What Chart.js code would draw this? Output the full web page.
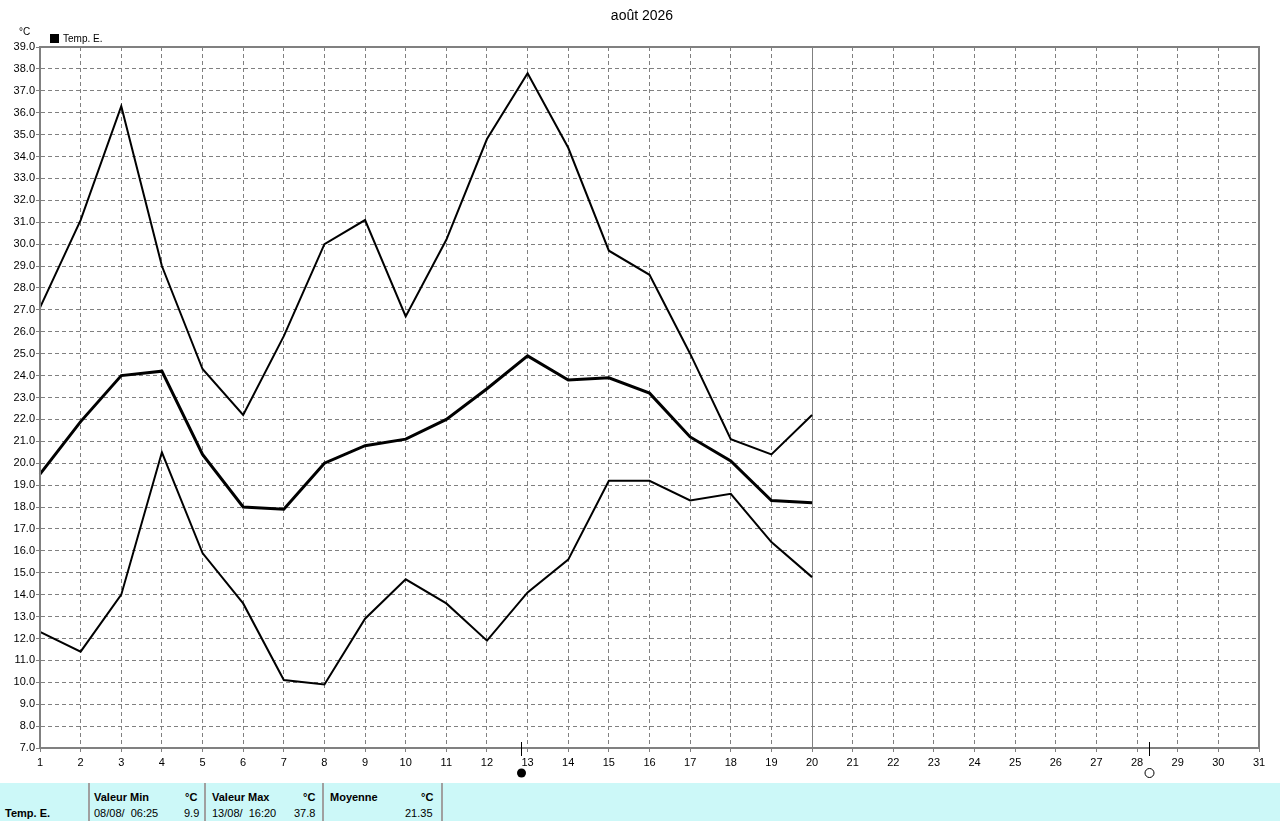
<!DOCTYPE html>
<html>
<head>
<meta charset="utf-8">
<script src="https://cdn.jsdelivr.net/npm/chart.js@4/dist/chart.umd.min.js"></script>
<style>
  body { margin: 0; background: #fff; font-family: "Liberation Sans", Arial, sans-serif; }
  #wrap { position: relative; width: 1280px; height: 821px; overflow: hidden; }
  #chart { position: absolute; left: 0; top: 0; }
  .txt { position: absolute; font-size: 11px; color: #000; white-space: nowrap; line-height: 12px; }
  #title { left: 0; width: 1284px; top: 7px; text-align: center; font-size: 14px; line-height: 16px; }
  #table { position: absolute; left: 0; top: 783px; width: 1280px; height: 38px; background: #ccf8f8; }
  .sep { position: absolute; top: 0; width: 2px; height: 38px; background: #a0a0a0; }
  .b { font-weight: bold; }
</style>
</head>
<body>
<div id="wrap">
  <canvas id="chart" width="1280" height="783"></canvas>
  <div id="title" class="txt">août 2026</div>
  <div class="txt" style="left:19px;top:26px;font-size:10px;">°C</div>
  <div class="txt" style="left:50px;top:33px;font-size:10px;"><span style="display:inline-block;width:9px;height:9px;background:#000;vertical-align:-1px;margin-right:4px;"></span>Temp. E.</div>
  <div id="table">
    <div class="sep" style="left:88px"></div>
    <div class="sep" style="left:204px"></div>
    <div class="sep" style="left:322px"></div>
    <div class="sep" style="left:441px"></div>
    <div class="txt b" style="left:5px;top:24px;">Temp. E.</div>
    <div class="txt b" style="left:94px;top:8px;">Valeur Min</div>
    <div class="txt b" style="left:185px;top:8px;">°C</div>
    <div class="txt" style="left:94px;top:24px;">08/08/&nbsp; 06:25</div>
    <div class="txt" style="left:184px;top:24px;">9.9</div>
    <div class="txt b" style="left:212px;top:8px;">Valeur Max</div>
    <div class="txt b" style="left:303px;top:8px;">°C</div>
    <div class="txt" style="left:212px;top:24px;">13/08/&nbsp; 16:20</div>
    <div class="txt" style="left:294px;top:24px;">37.8</div>
    <div class="txt b" style="left:330px;top:8px;">Moyenne</div>
    <div class="txt b" style="left:421px;top:8px;">°C</div>
    <div class="txt" style="left:405px;top:24px;">21.35</div>
  </div>
</div>
<script>
// days of the month (x axis)
const days = [];
for (let d = 1; d <= 31; d++) days.push(String(d));

// daily values, days 1..20
const tempMax = [27.1, 31.1, 36.3, 29.0, 24.3, 22.2, 25.8, 30.0, 31.1, 26.7,
                 30.2, 34.8, 37.8, 34.4, 29.7, 28.6, 25.0, 21.1, 20.4, 22.2];
const tempMean = [19.5, 21.9, 24.0, 24.2, 20.4, 18.0, 17.9, 20.0, 20.8, 21.1,
                  22.0, 23.4, 24.9, 23.8, 23.9, 23.2, 21.2, 20.1, 18.3, 18.2];
const tempMin = [12.3, 11.4, 14.0, 20.5, 15.9, 13.6, 10.1, 9.9, 12.9, 14.7,
                 13.6, 11.9, 14.1, 15.6, 19.2, 19.2, 18.3, 18.6, 16.4, 14.8];

// moon phases (day of month, fractional) and current-day marker
const moonDays = [12.83, 28.29];
const moonFull = [false, true];
const todayDay = 20;

const GRAY = "#808080";

// frame, today line and moon markers
const extras = {
  id: "extras",
  beforeDatasetsDraw(chart) {
    const { ctx, chartArea: a, scales: { x } } = chart;
    ctx.save();
    ctx.strokeStyle = GRAY;
    ctx.lineWidth = 1;
    const tx = Math.round(x.getPixelForValue(todayDay - 1)) + 0.5;
    ctx.beginPath();
    ctx.moveTo(tx, a.top);
    ctx.lineTo(tx, a.bottom);
    ctx.stroke();
    ctx.restore();
  },
  afterDraw(chart) {
    const { ctx, chartArea: a, scales: { x } } = chart;
    ctx.save();
    ctx.strokeStyle = GRAY;
    ctx.lineWidth = 2;
    ctx.strokeRect(a.left, a.top, a.right - a.left, a.bottom - a.top);
    moonDays.forEach((d, i) => {
      const px = Math.round(x.getPixelForValue(d - 1)) + 0.5;
      ctx.strokeStyle = "#000";
      ctx.lineWidth = 1;
      ctx.beginPath();
      ctx.moveTo(px, a.bottom - 6);
      ctx.lineTo(px, a.bottom + 8);
      ctx.stroke();
      ctx.beginPath();
      ctx.arc(px, a.bottom + 25, 4.5, 0, Math.PI * 2);
      if (moonFull[i]) {
        ctx.stroke();
      } else {
        ctx.fillStyle = "#000";
        ctx.fill();
      }
    });
    ctx.restore();
  }
};

const lineSet = (data, width) => ({
  data,
  borderColor: "#000",
  borderWidth: width,
  pointRadius: 0,
  tension: 0,
  fill: false
});

new Chart(document.getElementById("chart"), {
  type: "line",
  data: {
    labels: days,
    datasets: [
      lineSet(tempMax, 2),
      lineSet(tempMean, 3),
      lineSet(tempMin, 2)
    ]
  },
  options: {
    responsive: false,
    animation: false,
    devicePixelRatio: 1,
    layout: { padding: { left: 0, top: 47, right: 21, bottom: 0 } },
    plugins: {
      legend: { display: false },
      title: { display: false },
      tooltip: { enabled: false }
    },
    scales: {
      x: {
        type: "category",
        offset: false,
        afterFit(scale) { scale.height = 35; },
        grid: { color: GRAY, lineWidth: 1, tickLength: 4, tickColor: GRAY },
        border: { display: true, color: GRAY, width: 2, dash: [4, 3] },
        ticks: {
          color: "#000",
          font: { family: "Liberation Sans, Arial", size: 11 },
          maxRotation: 0,
          autoSkip: false,
          padding: 4
        }
      },
      y: {
        min: 7,
        max: 39,
        afterFit(scale) { scale.width = 40; },
        grid: { color: GRAY, lineWidth: 1, tickLength: 4, tickColor: GRAY },
        border: { display: true, color: GRAY, width: 2, dash: [4, 3] },
        ticks: {
          stepSize: 1,
          color: "#000",
          font: { family: "Liberation Sans, Arial", size: 11 },
          padding: 1,
          callback: v => v.toFixed(1)
        }
      }
    }
  },
  plugins: [extras]
});
</script>
</body>
</html>
